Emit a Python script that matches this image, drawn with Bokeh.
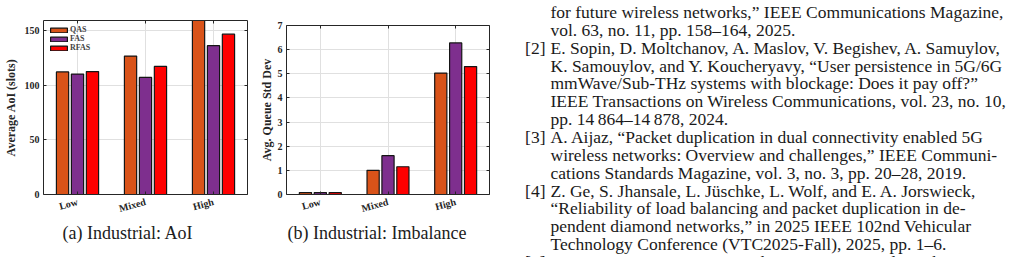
from bokeh.plotting import figure
from bokeh.layouts import row
from bokeh.models import (ColumnDataSource, FactorRange, Range1d, LinearAxis,
                          CategoricalAxis, FixedTicker, Legend, LegendItem, Title)
from bokeh.transform import dodge
from bokeh.core.properties import value
from bokeh.embed import file_html
from bokeh.resources import INLINE

# ---- data -------------------------------------------------------------
categories = ["Low", "Mixed", "High"]
series = ["QAS", "FAS", "RFAS"]
series_colors = ["#D95319", "#7E2F8E", "#FF0000"]

aoi_qas = [112.0, 126.5, 159.0]
aoi_fas = [110.0, 107.0, 136.0]
aoi_rfas = [112.3, 117.0, 146.5]
aoi_ticks = [0, 50, 100, 150]

imb_qas = [0.08, 1.00, 5.03]
imb_fas = [0.08, 1.61, 6.28]
imb_rfas = [0.08, 1.15, 5.30]
imb_ticks = [0, 1, 2, 3, 4, 5, 6, 7]

ref_lines = [
    ("", "for future wireless networks,\u201d IEEE Communications Magazine,"),
    ("", "vol. 63, no. 11, pp. 158\u2013164, 2025."),
    ("[2]", "E. Sopin, D. Moltchanov, A. Maslov, V. Begishev, A. Samuylov,"),
    ("", "K. Samouylov, and Y. Koucheryavy, \u201cUser persistence in 5G/6G"),
    ("", "mmWave/Sub-THz systems with blockage: Does it pay off?\u201d"),
    ("", "IEEE Transactions on Wireless Communications, vol. 23, no. 10,"),
    ("", "pp. 14\u2009864\u201314\u2009878, 2024."),
    ("[3]", "A. Aijaz, \u201cPacket duplication in dual connectivity enabled 5G"),
    ("", "wireless networks: Overview and challenges,\u201d IEEE Communi-"),
    ("", "cations Standards Magazine, vol. 3, no. 3, pp. 20\u201328, 2019."),
    ("[4]", "Z. Ge, S. Jhansale, L. J\u00fcschke, L. Wolf, and E. A. Jorswieck,"),
    ("", "\u201cReliability of load balancing and packet duplication in de-"),
    ("", "pendent diamond networks,\u201d in 2025 IEEE 102nd Vehicular"),
    ("", "Technology Conference (VTC2025-Fall), 2025, pp. 1\u20136."),
    ("[5]", "D. Niu, S. Liu, X. Wang, X. Zhang, W. Feng, and N. Zhang,"),
]

# ---- styling ----------------------------------------------------------
SERIF = "Liberation Serif"
AXIS_COLOR = "#262626"
GRID_COLOR = "#e0e0e0"
FIG_H = 257
OFFSETS = [-0.22, 0.0, 0.22]
BAR_W = 0.18


def no_frame_align(p):
    # keep each panel's own borders inside the row
    if "frame_align" in p.properties():
        p.frame_align = False


def style_axis(ax, show_labels=True):
    ax.axis_line_color = AXIS_COLOR
    ax.axis_line_width = 1
    ax.major_tick_line_color = AXIS_COLOR
    ax.major_tick_in = 3
    ax.major_tick_out = 0
    ax.minor_tick_line_color = None
    ax.major_label_text_font = SERIF
    ax.major_label_text_font_style = "bold"
    if show_labels:
        ax.major_label_text_color = AXIS_COLOR
        ax.major_label_text_font_size = "10px"
    else:
        # tick marks only (box edges)
        ax.major_label_text_color = None
        ax.major_label_text_font_size = "1px"
        ax.major_label_standoff = 0


def bar_panel(cols, y_end, ticks, ylabel, caption, width, borders,
              label_standoff, caption_offset, with_legend=False):
    left, right, top, bottom = borders
    p = figure(width=width, height=FIG_H,
               x_range=FactorRange(factors=categories, range_padding=0),
               y_range=Range1d(0, y_end), title=None,
               output_backend="svg", toolbar_location=None,
               min_border_left=left, min_border_right=right,
               min_border_top=top, min_border_bottom=bottom)
    no_frame_align(p)
    p.outline_line_color = None
    p.background_fill_color = "white"

    data = {"cat": categories}
    for name, vals in zip(series, cols):
        data[name] = vals
    src = ColumnDataSource(data)

    renderers = []
    for name, off, color in zip(series, OFFSETS, series_colors):
        r = p.vbar(x=dodge("cat", off, range=p.x_range), top=name, width=BAR_W,
                   source=src, fill_color=color, line_color="#151515",
                   line_width=1.2)
        renderers.append(r)

    # grid
    p.xgrid.grid_line_color = GRID_COLOR
    p.ygrid.grid_line_color = GRID_COLOR
    p.ygrid.ticker = FixedTicker(ticks=ticks)

    # left / bottom axes
    p.yaxis.ticker = FixedTicker(ticks=ticks)
    p.yaxis.axis_label = ylabel
    p.yaxis.axis_label_text_font = SERIF
    p.yaxis.axis_label_text_font_style = "bold"
    p.yaxis.axis_label_text_font_size = "12px"
    p.yaxis.axis_label_text_color = AXIS_COLOR
    p.yaxis.axis_label_standoff = label_standoff
    p.yaxis.major_label_standoff = 4
    style_axis(p.yaxis[0])
    style_axis(p.xaxis[0])
    p.xaxis.major_label_orientation = 0.26
    p.xaxis.major_label_standoff = 7

    # box: mirrored axes on top and right
    right_ax = LinearAxis(ticker=FixedTicker(ticks=ticks))
    style_axis(right_ax, show_labels=False)
    p.add_layout(right_ax, "right")
    top_ax = CategoricalAxis()
    style_axis(top_ax, show_labels=False)
    p.add_layout(top_ax, "above")

    if with_legend:
        items = [LegendItem(label=n, renderers=[r]) for n, r in zip(series, renderers)]
        lg = Legend(items=items, location="top_left", margin=5, padding=3,
                    spacing=0, glyph_width=21, glyph_height=6, label_height=8,
                    label_standoff=1, label_text_font=SERIF,
                    label_text_font_style="bold", label_text_font_size="8px",
                    border_line_color=None, background_fill_alpha=0)
        p.add_layout(lg)

    # sub-figure caption under the axis
    p.add_layout(Title(text=caption, align="left", offset=caption_offset,
                       standoff=-4, text_font=SERIF, text_font_size="18px",
                       text_font_style="normal", text_color="#202020"), "below")
    return p


pa = bar_panel([aoi_qas, aoi_fas, aoi_rfas], 159, aoi_ticks,
               "Average AoI (slots)", "(a) Industrial: AoI",
               250, (40, 3, 20, 63), 4, 19, with_legend=True)
pb = bar_panel([imb_qas, imb_fas, imb_rfas], 7, imb_ticks,
               "Avg. Queue Std Dev", "(b) Industrial: Imbalance",
               250, (36, 11, 25, 63), 1, 1)

# ---- reference list column -------------------------------------------
pc = figure(width=531, height=FIG_H, x_range=Range1d(0, 531),
            y_range=Range1d(FIG_H, 0), output_backend="svg", title=None,
            toolbar_location=None, x_axis_type=None, y_axis_type=None,
            min_border=0)
no_frame_align(pc)
pc.outline_line_color = None
pc.grid.visible = False

LINE_STEP = 17.85
FIRST_BASE = 11.5
bx, by, bt = [], [], []
mx, my, mt = [], [], []
for i, (marker, body) in enumerate(ref_lines):
    base = FIRST_BASE + LINE_STEP * i
    bx.append(50)
    by.append(base)
    bt.append(body)
    if marker:
        mx.append(45)
        my.append(base)
        mt.append(marker)
pc.text(x=bx, y=by, text=bt, text_font=value(SERIF), text_font_size="17.5px",
        text_baseline="alphabetic", text_align="left", text_color="#1a1a1a")
pc.text(x=mx, y=my, text=mt, text_font=value(SERIF), text_font_size="17.5px",
        text_baseline="alphabetic", text_align="right", text_color="#1a1a1a")

layout = row(pa, pb, pc, spacing=0)
open("out.html", "w").write(file_html(layout, INLINE))
